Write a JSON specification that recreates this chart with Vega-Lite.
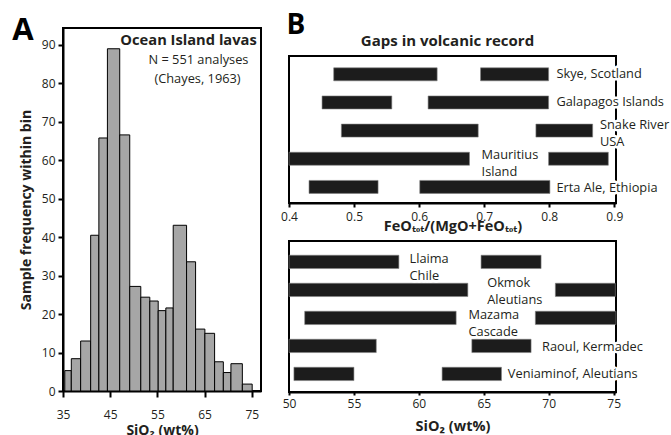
{
  "$schema": "https://vega.github.io/schema/vega-lite/v6.json",
  "background": "white",
  "padding": {"left": 11, "top": 12, "right": 0, "bottom": 0},
  "config": {
    "font": "Open Sans",
    "view": {"stroke": "black", "strokeWidth": 2},
    "axis": {"grid": false, "domainColor": "black", "domainWidth": 2, "tickColor": "black", "tickWidth": 2, "labelColor": "#231f20", "labelFontSize": 12, "labelFont": "Open Sans", "labelFlush": false, "titleFont": "Open Sans", "titleFontSize": 14, "titleFontWeight": "bold", "titleColor": "#231f20"},
    "title": {"font": "Open Sans", "color": "#231f20"}
  },
  "spacing": 17,
  "hconcat": [
    {
      "width": 198,
      "height": 363,
      "title": {"text": "A", "anchor": "start", "fontSize": 31, "fontWeight": "bold", "color": "black", "offset": -11, "dx": -7, "dy": 8},
      "layer": [
        {
          "data": {"values": [
            {"x0": 35.38, "x1": 36.76, "count": 5.3},
            {"x0": 36.76, "x1": 38.74, "count": 8.4},
            {"x0": 38.74, "x1": 40.86, "count": 13.0},
            {"x0": 40.86, "x1": 42.6, "count": 40.5},
            {"x0": 42.6, "x1": 44.41, "count": 65.8},
            {"x0": 44.41, "x1": 47.02, "count": 89.0},
            {"x0": 47.02, "x1": 49.14, "count": 66.6},
            {"x0": 49.14, "x1": 51.48, "count": 27.2},
            {"x0": 51.48, "x1": 53.39, "count": 24.4},
            {"x0": 53.39, "x1": 55.17, "count": 23.4},
            {"x0": 55.17, "x1": 56.79, "count": 20.9},
            {"x0": 56.79, "x1": 58.35, "count": 21.6},
            {"x0": 58.35, "x1": 61.18, "count": 43.1},
            {"x0": 61.18, "x1": 63.09, "count": 33.6},
            {"x0": 63.09, "x1": 65.06, "count": 16.1},
            {"x0": 65.06, "x1": 67.12, "count": 15.0},
            {"x0": 67.12, "x1": 68.97, "count": 7.6},
            {"x0": 68.97, "x1": 70.58, "count": 4.8},
            {"x0": 70.58, "x1": 73.0, "count": 7.1},
            {"x0": 73.0, "x1": 75.08, "count": 1.8}
          ]},
          "mark": {"type": "rect", "fill": "#a6a6a6", "stroke": "black", "strokeWidth": 1},
          "encoding": {
            "x": {"field": "x0", "type": "quantitative", "scale": {"domain": [35, 76.95], "nice": false, "zero": false}, "axis": {"values": [35, 45, 55, 65, 75], "title": "SiO₂ (wt%)", "tickSize": 6, "labelPadding": 12, "titlePadding": 3}},
            "x2": {"field": "x1"},
            "y": {"field": "count", "type": "quantitative", "scale": {"domain": [0, 94.4], "nice": false}, "axis": {"values": [0, 10, 20, 30, 40, 50, 60, 70, 80, 90], "title": "Sample frequency within bin", "tickSize": 5, "labelPadding": 3, "titlePadding": 8}},
            "y2": {"datum": 0}
          }
        },
        {
          "data": {"values": [{"note": "Ocean Island lavas", "nx": 61.6, "ny": 91.1}]},
          "mark": {"type": "text", "fontSize": 14.7, "fontWeight": "bold", "color": "#231f20", "baseline": "middle"},
          "encoding": {"x": {"field": "nx", "type": "quantitative"}, "y": {"field": "ny", "type": "quantitative"}, "text": {"field": "note"}}
        },
        {
          "data": {"values": [{"note": "N = 551 analyses", "nx": 63.7, "ny": 86.1}, {"note": "(Chayes, 1963)", "nx": 63.5, "ny": 81.2}]},
          "mark": {"type": "text", "fontSize": 12.8, "color": "#231f20", "baseline": "middle"},
          "encoding": {"x": {"field": "nx", "type": "quantitative"}, "y": {"field": "ny", "type": "quantitative"}, "text": {"field": "note"}}
        }
      ]
    },
    {
      "title": {"text": "B", "anchor": "start", "fontSize": 28, "fontWeight": "bold", "color": "black", "offset": -12, "dx": 7},
      "spacing": 6,
      "vconcat": [
        {
          "width": 327,
          "height": 14,
          "view": {"stroke": null},
          "title": {"text": "Gaps in volcanic record", "fontSize": 15, "fontWeight": "bold", "anchor": "middle", "offset": -21, "dx": -5},
          "data": {"values": []},
          "mark": "text",
          "encoding": {}
        },
        {
          "width": 327,
          "height": 147,
          "layer": [
            {
              "data": {"values": [
                {"site": "Skye, Scotland", "row": 1, "lo": 0.4687, "hi": 0.6277},
                {"site": "Skye, Scotland", "row": 1, "lo": 0.6944, "hi": 0.799},
                {"site": "Galapagos Islands", "row": 2, "lo": 0.4508, "hi": 0.558},
                {"site": "Galapagos Islands", "row": 2, "lo": 0.6138, "hi": 0.799},
                {"site": "Snake River, USA", "row": 3, "lo": 0.4805, "hi": 0.6908},
                {"site": "Snake River, USA", "row": 3, "lo": 0.7795, "hi": 0.8667},
                {"site": "Mauritius Island", "row": 4, "lo": 0.4, "hi": 0.6774},
                {"site": "Mauritius Island", "row": 4, "lo": 0.799, "hi": 0.8908},
                {"site": "Erta Ale, Ethiopia", "row": 5, "lo": 0.4308, "hi": 0.5369},
                {"site": "Erta Ale, Ethiopia", "row": 5, "lo": 0.601, "hi": 0.801}
              ]},
              "mark": {"type": "bar", "orient": "horizontal", "size": 13, "fill": "#1c1c1c", "stroke": "#808080", "strokeWidth": 0.6},
              "encoding": {
                "x": {"field": "lo", "type": "quantitative", "scale": {"domain": [0.4, 0.9026], "nice": false, "zero": false}, "axis": {"values": [0.4, 0.5, 0.6, 0.7, 0.8, 0.9], "format": ".1f", "title": "FeOₜₒₜ/(MgO+FeOₜₒₜ)", "titleFontSize": 14.5, "tickSize": 4, "labelPadding": 4, "titlePadding": -3}},
                "x2": {"field": "hi"},
                "y": {"field": "row", "type": "quantitative", "scale": {"domain": [0.527, 5.394], "reverse": true, "nice": false, "zero": false}, "axis": null}
              }
            },
            {
              "data": {"values": [
                {"label": "Skye, Scotland", "lx": 0.811, "ly": 1.0},
                {"label": "Galapagos Islands", "lx": 0.811, "ly": 2.0},
                {"label": "Snake River\nUSA", "lx": 0.878, "ly": 2.81},
                {"label": "Mauritius\nIsland", "lx": 0.696, "ly": 3.87},
                {"label": "Erta Ale, Ethiopia", "lx": 0.811, "ly": 5.03}
              ]},
              "layer": [
                {
                  "mark": {"type": "text", "align": "left", "baseline": "middle", "fontSize": 12.8, "lineBreak": "\n", "lineHeight": 17, "stroke": "white", "strokeWidth": 5, "strokeJoin": "round", "fill": "white"},
                  "encoding": {"x": {"field": "lx", "type": "quantitative"}, "y": {"field": "ly", "type": "quantitative"}, "text": {"field": "label"}}
                },
                {
                  "mark": {"type": "text", "align": "left", "baseline": "middle", "fontSize": 12.8, "lineBreak": "\n", "lineHeight": 17, "fill": "#231f20"},
                  "encoding": {"x": {"field": "lx", "type": "quantitative"}, "y": {"field": "ly", "type": "quantitative"}, "text": {"field": "label"}}
                }
              ]
            }
          ]
        },
        {
          "width": 327,
          "height": 151,
          "layer": [
            {
              "data": {"values": [
                {"site": "Llaima, Chile", "row": 1, "lo": 50.0, "hi": 58.46},
                {"site": "Llaima, Chile", "row": 1, "lo": 64.79, "hi": 69.41},
                {"site": "Okmok, Aleutians", "row": 2, "lo": 50.0, "hi": 63.77},
                {"site": "Okmok, Aleutians", "row": 2, "lo": 70.51, "hi": 75.13},
                {"site": "Mazama, Cascade", "row": 3, "lo": 51.21, "hi": 62.87},
                {"site": "Mazama, Cascade", "row": 3, "lo": 68.97, "hi": 75.18},
                {"site": "Raoul, Kermadec", "row": 4, "lo": 50.0, "hi": 56.72},
                {"site": "Raoul, Kermadec", "row": 4, "lo": 64.08, "hi": 68.64},
                {"site": "Veniaminof, Aleutians", "row": 5, "lo": 50.38, "hi": 55.0},
                {"site": "Veniaminof, Aleutians", "row": 5, "lo": 61.79, "hi": 66.36}
              ]},
              "mark": {"type": "bar", "orient": "horizontal", "size": 13.3, "fill": "#1c1c1c", "stroke": "#808080", "strokeWidth": 0.6},
              "encoding": {
                "x": {"field": "lo", "type": "quantitative", "scale": {"domain": [50, 75.18], "nice": false, "zero": false}, "axis": {"values": [50, 55, 60, 65, 70, 75], "title": "SiO₂ (wt%)", "titleFontSize": 14.5, "tickSize": 3, "labelPadding": 3, "titlePadding": 10}},
                "x2": {"field": "hi"},
                "y": {"field": "row", "type": "quantitative", "scale": {"domain": [0.433, 5.467], "reverse": true, "nice": false, "zero": false}, "axis": null}
              }
            },
            {
              "data": {"values": [
                {"label": "Llaima\nChile", "lx": 59.28, "ly": 0.91},
                {"label": "Okmok\nAleutians", "lx": 65.26, "ly": 1.76},
                {"label": "Mazama\nCascade", "lx": 63.82, "ly": 2.9},
                {"label": "Raoul, Kermadec", "lx": 69.49, "ly": 4.04},
                {"label": "Veniaminof, Aleutians", "lx": 66.85, "ly": 5.02}
              ]},
              "layer": [
                {
                  "mark": {"type": "text", "align": "left", "baseline": "middle", "fontSize": 12.8, "lineBreak": "\n", "lineHeight": 17, "stroke": "white", "strokeWidth": 5, "strokeJoin": "round", "fill": "white"},
                  "encoding": {"x": {"field": "lx", "type": "quantitative"}, "y": {"field": "ly", "type": "quantitative"}, "text": {"field": "label"}}
                },
                {
                  "mark": {"type": "text", "align": "left", "baseline": "middle", "fontSize": 12.8, "lineBreak": "\n", "lineHeight": 17, "fill": "#231f20"},
                  "encoding": {"x": {"field": "lx", "type": "quantitative"}, "y": {"field": "ly", "type": "quantitative"}, "text": {"field": "label"}}
                }
              ]
            }
          ]
        }
      ]
    }
  ]
}
